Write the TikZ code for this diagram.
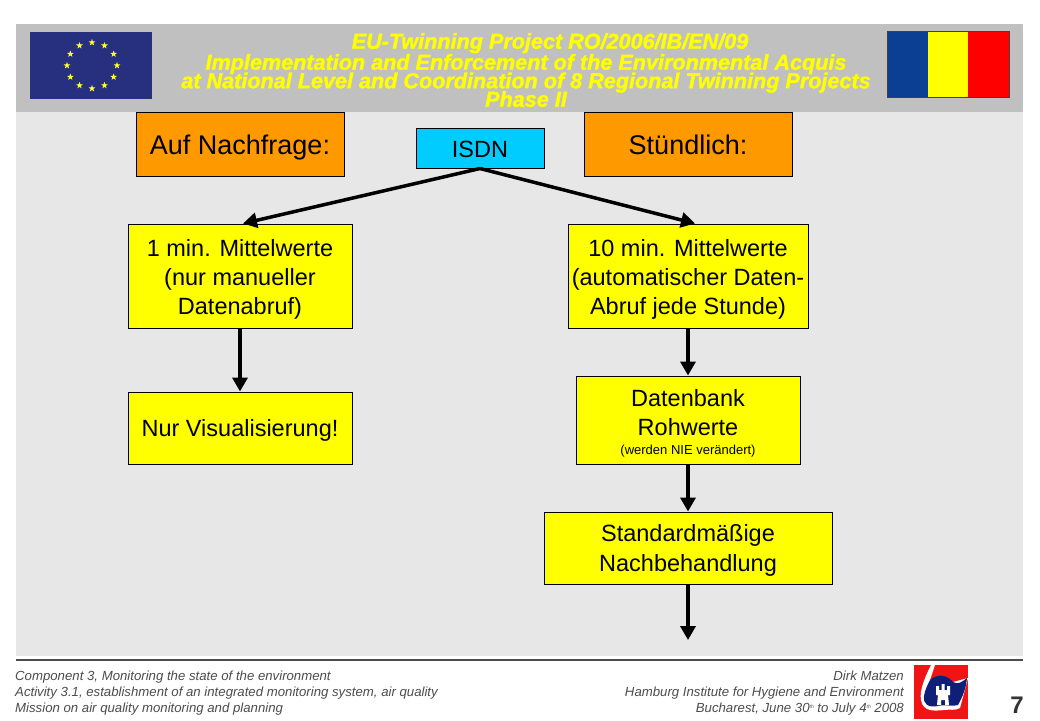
\documentclass[tikz,border=0pt]{standalone}
\usepackage{fontspec}
\setmainfont{Liberation Sans}
\newfontface\titleface{Liberation Sans Bold Italic}[FakeBold=1.6]
\usetikzlibrary{arrows.meta,shapes.geometric}
\definecolor{eublue}{HTML}{27307F}
\definecolor{roblue}{HTML}{0B3F94}
\definecolor{hhblue}{HTML}{0F1F78}
\definecolor{hhred}{HTML}{F01414}
\definecolor{boxorange}{HTML}{FF9900}
\definecolor{boxcyan}{HTML}{00CCFF}
\definecolor{boxyellow}{HTML}{FFFF00}
\definecolor{slidegrey}{HTML}{E7E7E7}
\definecolor{headgrey}{HTML}{C0C0C0}
\newcommand{\titlefont}{\fontsize{21.6}{18.5}\selectfont\titleface\lineskiplimit=-20pt}
\newcommand{\footfont}{\fontsize{13.2}{16}\selectfont\itshape}
\newcommand{\thmark}{\raisebox{4pt}{\fontsize{5}{5}\selectfont th}}
\newcommand{\topgap}[1]{\rule{0pt}{#1pt}}

\begin{document}
\begin{tikzpicture} [
			x=1pt, y=-1pt,
			yellowbox/.style={rectangle, draw, line width=1pt, fill=boxyellow, inner sep=0pt, align=center, font=\fontsize{23.5}{29}\selectfont},
			orangebox/.style={rectangle, draw, line width=1pt, fill=boxorange, inner sep=0pt, align=center, text height=24pt, text depth=4pt, font=\fontsize{27}{32}\selectfont},
			arrow/.style={line width=3.5pt, -{Triangle[length=14pt, width=15pt]}},
			foot/.style={inner sep=0pt, text=black!70, font=\footfont},
			eustar/.style={star, star points=5, star point ratio=2.4, fill=boxyellow!80!white, inner sep=0pt, minimum size=7pt}
		]
		\useasboundingbox (0,0) rectangle (1040,720);
		\fill [slidegrey] (16,24) rectangle (1023,656);
		\fill [headgrey] (16,24) rectangle (1023,112);
		\draw [line width=2pt, black!70] (16,660) -- (1023,660);
		
		% flags
		\fill [eublue] (30,32) rectangle (152,99);
		\foreach \a in {0,30,...,330}
			\node [eustar] (eu\a) at ({92+25*sin(\a)},{65.5-23*cos(\a)}) {};
		\fill [roblue] (887,31) rectangle (928,97);
		\fill [boxyellow] (928,31) rectangle (968,97);
		\fill [red] (968,31) rectangle (1009,97);
		\draw [black!75] (887,31) rectangle (1009,97);
		
		% title
		\node at (526,70) [align=center, inner sep=0pt, text=boxyellow, font=\titlefont] (title) {\hspace*{48pt}EU-Twinning Project RO/2006/IB/EN/09\\[2.5pt]Implementation and Enforcement of the Environmental Acquis\\at National Level and Coordination of 8 Regional Twinning Projects\\Phase II};
		
		% boxes
		\node at (240,144) [orangebox, minimum width=208pt, minimum height=64pt] (nachfrage) {Auf Nachfrage:};
		\node at (688,144) [orangebox, minimum width=208pt, minimum height=64pt] (stuendlich) {Stündlich:};
		\node at (480,148) [yellowbox, fill=boxcyan, minimum width=128pt, minimum height=40pt] (isdn) {\topgap{19}ISDN};
		\node at (240,276) [yellowbox, minimum width=224pt, minimum height=104pt] (einmin) {\topgap{23}1 min. Mittelwerte\\(nur manueller\\Datenabruf)};
		\node at (688,276) [yellowbox, minimum width=240pt, minimum height=104pt] (zehnmin) {\topgap{23}10 min. Mittelwerte\\(automatischer Daten-\\Abruf jede Stunde)};
		\node at (240,428) [yellowbox, minimum width=224pt, minimum height=72pt] (visual) {\topgap{21}Nur Visualisierung!};
		\node at (688,420) [yellowbox, minimum width=224pt, minimum height=88pt] (rohwerte) {\topgap{23}Datenbank\\Rohwerte\\[-10pt]{\fontsize{13}{14}\selectfont (werden NIE verändert)}};
		\node at (688,548) [yellowbox, minimum width=288pt, minimum height=72pt] (standard) {\topgap{22}Standardmäßige\\[1pt]Nachbehandlung};
		\coordinate (ende) at (688,640);
		
		\draw [arrow] (isdn.south) -- ([xshift=3pt]einmin.north);
		\draw [arrow] (isdn.south) -- ([xshift=7pt]zehnmin.north);
		\draw [arrow] (einmin) -- (visual);
		\draw [arrow] (zehnmin) -- (rohwerte);
		\draw [arrow] (rohwerte) -- (standard);
		\draw [arrow] (standard) -- (ende);
		
		% footer
		\node at (15,693) [foot, anchor=west, align=left] (links) {Component 3, Monitoring the state of the environment\\Activity 3.1, establishment of an integrated monitoring system, air quality\\Mission on air quality monitoring and planning};
		\node at (904,693) [foot, anchor=east, align=right] (rechts) {Dirk Matzen\\Hamburg Institute for Hygiene and Environment\\Bucharest, June 30\thmark{} to July 4\thmark{} 2008};
		\node at (1017,705) [inner sep=0pt, font=\fontsize{24}{24}\selectfont\bfseries, text=black!80] (seite) {7};
		
		% logo
		\fill [hhred] (914,665) rectangle (968,719);
		\fill [white] (931,665) .. controls (926,675) and (919,690) .. (921,700) .. controls (923,712) and (934,711) .. (944,710) .. controls (950,709) and (955,711) .. (960,708) -- (968,678) -- (953,682) -- (930,680) -- (935,665) -- cycle;
		\fill [hhblue] (930,680) .. controls (938,673) and (947,675) .. (953,682) .. controls (958,685) and (962,682) .. (967,678) .. controls (966,688) and (963,696) .. (958,705) .. controls (952,707) and (946,704) .. (938,706) .. controls (928,708) and (923,704) .. (924,696) .. controls (925,690) and (927,686) .. (930,680) -- cycle;
		\fill [white] (937,705) -- (938,695) -- (936,695) -- (936,686) -- (939,686) -- (939,690) -- (941.5,690) -- (941.5,684) -- (944.5,684) -- (944.5,690) -- (947,690) -- (947,686) -- (950,686) -- (950,695) -- (948,695) -- (949,705) -- (945,705) -- (945,700) -- (941,700) -- (941,705) -- cycle;
	\end{tikzpicture}
\end{document}
